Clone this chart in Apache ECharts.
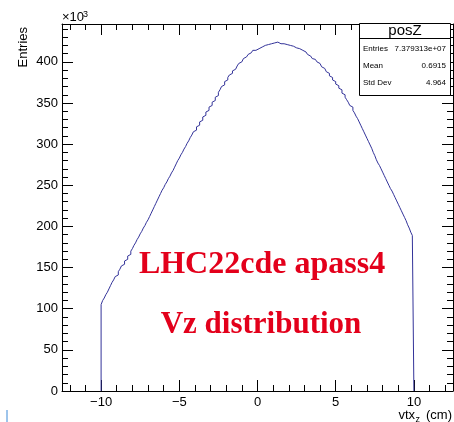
<!DOCTYPE html>
<html><head><meta charset="utf-8">
<script src="https://cdn.jsdelivr.net/npm/echarts@6/dist/echarts.min.js"></script>
<style>html,body{margin:0;padding:0;background:#fff}#c{width:454px;height:422px}</style>
</head><body><div id="c"></div>
<script>
// Histogram posZ: bins of 0.1 cm from -10 to 10, entries in units of 10^3
const binStart = -10;
const binWidth = 0.1;
const counts = [
  105, 110, 113, 117, 120, 124, 128, 132, 135, 139,
  141, 145, 148, 152, 154, 158, 160, 164, 166, 170,
  173, 177, 180, 184, 187, 191, 194, 198, 201, 205,
  208, 212, 216, 220, 224, 228, 232, 236, 240, 244,
  247, 251, 254, 258, 261, 265, 268, 272, 276, 280,
  283, 287, 290, 294, 297, 301, 304, 308, 311, 315,
  317, 321, 323, 327, 329, 333, 335, 339, 341, 345,
  347, 351, 353, 357, 359, 363, 366, 370, 372, 376,
  378, 381, 384, 386, 389, 391, 393, 395, 398, 400,
  402, 404, 406, 408, 409, 411, 412, 414, 414, 416,
  416, 418, 418, 419, 420, 420, 421, 421, 422, 422,
  423, 422, 424, 423, 422, 423, 422, 421, 421, 421,
  420, 419, 419, 418, 417, 416, 416, 414, 414, 412,
  412, 410, 409, 407, 406, 404, 403, 401, 400, 398,
  396, 394, 392, 390, 388, 386, 383, 381, 378, 376,
  373, 371, 368, 366, 362, 360, 357, 354, 351, 347,
  345, 341, 338, 334, 331, 327, 323, 319, 315, 311,
  307, 303, 299, 295, 290, 286, 281, 277, 274, 270,
  266, 262, 258, 254, 250, 246, 243, 239, 235, 231,
  227, 223, 219, 215, 211, 207, 202, 198, 193, 189
];
const xMajor = [-10, -5, 0, 5, 10];
const xMinor = [-12, -11, -9, -8, -7, -6, -4, -3, -2, -1, 1, 2, 3, 4, 6, 7, 8, 9, 11, 12];
const yMajor = [0, 50, 100, 150, 200, 250, 300, 350, 400];
const yMinor = [10, 20, 30, 40, 60, 70, 80, 90, 110, 120, 130, 140, 160, 170, 180, 190,
  210, 220, 230, 240, 260, 270, 280, 290, 310, 320, 330, 340, 360, 370, 380, 390, 410, 420, 430, 440];
const statRows = [['Entries', '7.379313e+07'], ['Mean', '0.6915'], ['Std Dev', '4.964']];
const histName = 'posZ';

const FONT = 'Liberation Sans, Arial, Helvetica, sans-serif';
const SERIF = 'Liberation Serif, Times New Roman, serif';

const pts = [[binStart, 0]];
counts.forEach((v, i) => pts.push([binStart + i * binWidth, v]));
const xEnd = binStart + counts.length * binWidth;
pts.push([xEnd, counts[counts.length - 1]]);
pts.push([xEnd, 0]);

function xa(pos, ticks, len, showLabel, showLine) {
  return {
    type: 'value', position: pos, min: -12.5, max: 12.5,
    axisLine: { show: showLine, onZero: false, lineStyle: { color: '#000', width: 1 } },
    axisTick: { show: true, inside: true, length: len, customValues: ticks, lineStyle: { color: '#000', width: 1 } },
    axisLabel: { show: showLabel, customValues: ticks, margin: 5, color: '#000', fontSize: 13, fontFamily: FONT,
      formatter: v => (v < 0 ? '\u2212' + Math.abs(v) : String(v)) },
    splitLine: { show: false }
  };
}
function ya(pos, ticks, len, showLabel, showLine) {
  return {
    type: 'value', position: pos, min: 0, max: 446,
    axisLine: { show: showLine, onZero: false, lineStyle: { color: '#000', width: 1 } },
    axisTick: { show: true, inside: true, length: len, customValues: ticks, lineStyle: { color: '#000', width: 1 } },
    axisLabel: { show: showLabel, customValues: ticks, margin: 4, color: '#000', fontSize: 13, fontFamily: FONT },
    splitLine: { show: false }
  };
}

const graphic = [
  { type: 'text', x: 23, y: 27, rotation: Math.PI / 2,
    style: { text: 'Entries', font: '13px ' + FONT, fill: '#000', align: 'right', verticalAlign: 'middle' } },
  { type: 'text', x: 62, y: 24, style: { text: '\u00d710', font: '13px ' + FONT, fill: '#000', align: 'left', verticalAlign: 'bottom' } },
  { type: 'text', x: 83, y: 10, style: { text: '3', font: '9px ' + FONT, fill: '#000', align: 'left', verticalAlign: 'top' } },
  { type: 'text', x: 452, y: 422, style: { text: '(cm)', font: '13px ' + FONT, fill: '#000', align: 'right', verticalAlign: 'bottom' } },
  { type: 'text', x: 420, y: 424, style: { text: 'z', font: '9px ' + FONT, fill: '#000', align: 'right', verticalAlign: 'bottom' } },
  { type: 'text', x: 415, y: 422, style: { text: 'vtx', font: '13px ' + FONT, fill: '#000', align: 'right', verticalAlign: 'bottom' } },
  { type: 'text', x: 262, y: 265, style: { text: 'LHC22cde apass4', font: 'bold 32px ' + SERIF, fill: '#e3001b', align: 'center', verticalAlign: 'middle' } },
  { type: 'text', x: 261, y: 325, style: { text: 'Vz distribution', font: 'bold 31px ' + SERIF, fill: '#e3001b', align: 'center', verticalAlign: 'middle' } },
  { type: 'rect', z: 100, shape: { x: 359.5, y: 23.5, width: 91, height: 72 }, style: { fill: '#fff', stroke: '#000', lineWidth: 1 } },
  { type: 'line', z: 101, shape: { x1: 359.5, y1: 38.5, x2: 450.5, y2: 38.5 }, style: { stroke: '#000', lineWidth: 1 } },
  { type: 'text', z: 102, x: 405, y: 31, style: { text: histName, font: '15px ' + FONT, fill: '#000', align: 'center', verticalAlign: 'middle' } },
  { type: 'line', shape: { x1: 7, y1: 410, x2: 7, y2: 422 }, style: { stroke: '#3c8ad8', lineWidth: 1 } }
];
statRows.forEach((r, i) => {
  const y = 49 + i * 17;
  graphic.push({ type: 'text', z: 102, x: 363, y: y, style: { text: r[0], font: '8px ' + FONT, fill: '#000', align: 'left', verticalAlign: 'middle' } });
  graphic.push({ type: 'text', z: 102, x: 446, y: y, style: { text: r[1], font: '8px ' + FONT, fill: '#000', align: 'right', verticalAlign: 'middle' } });
});

const chart = echarts.init(document.getElementById('c'), null, { renderer: 'canvas' });
chart.setOption({
  animation: false,
  backgroundColor: '#fff',
  grid: { left: 62, right: 1, top: 24, bottom: 31 },
  xAxis: [
    xa('bottom', xMajor, 11, true, true),
    xa('bottom', xMinor, 6, false, false),
    xa('top', xMajor, 11, false, true),
    xa('top', xMinor, 6, false, false)
  ],
  yAxis: [
    ya('left', yMajor, 11, true, true),
    ya('left', yMinor, 6, false, false),
    ya('right', yMajor, 11, false, true),
    ya('right', yMinor, 6, false, false)
  ],
  series: [{
    type: 'line', step: 'end', symbol: 'none', xAxisIndex: 0, yAxisIndex: 0,
    data: pts, lineStyle: { color: '#333399', width: 1 }, z: 3
  }],
  graphic: graphic
});
</script>
</body></html>
